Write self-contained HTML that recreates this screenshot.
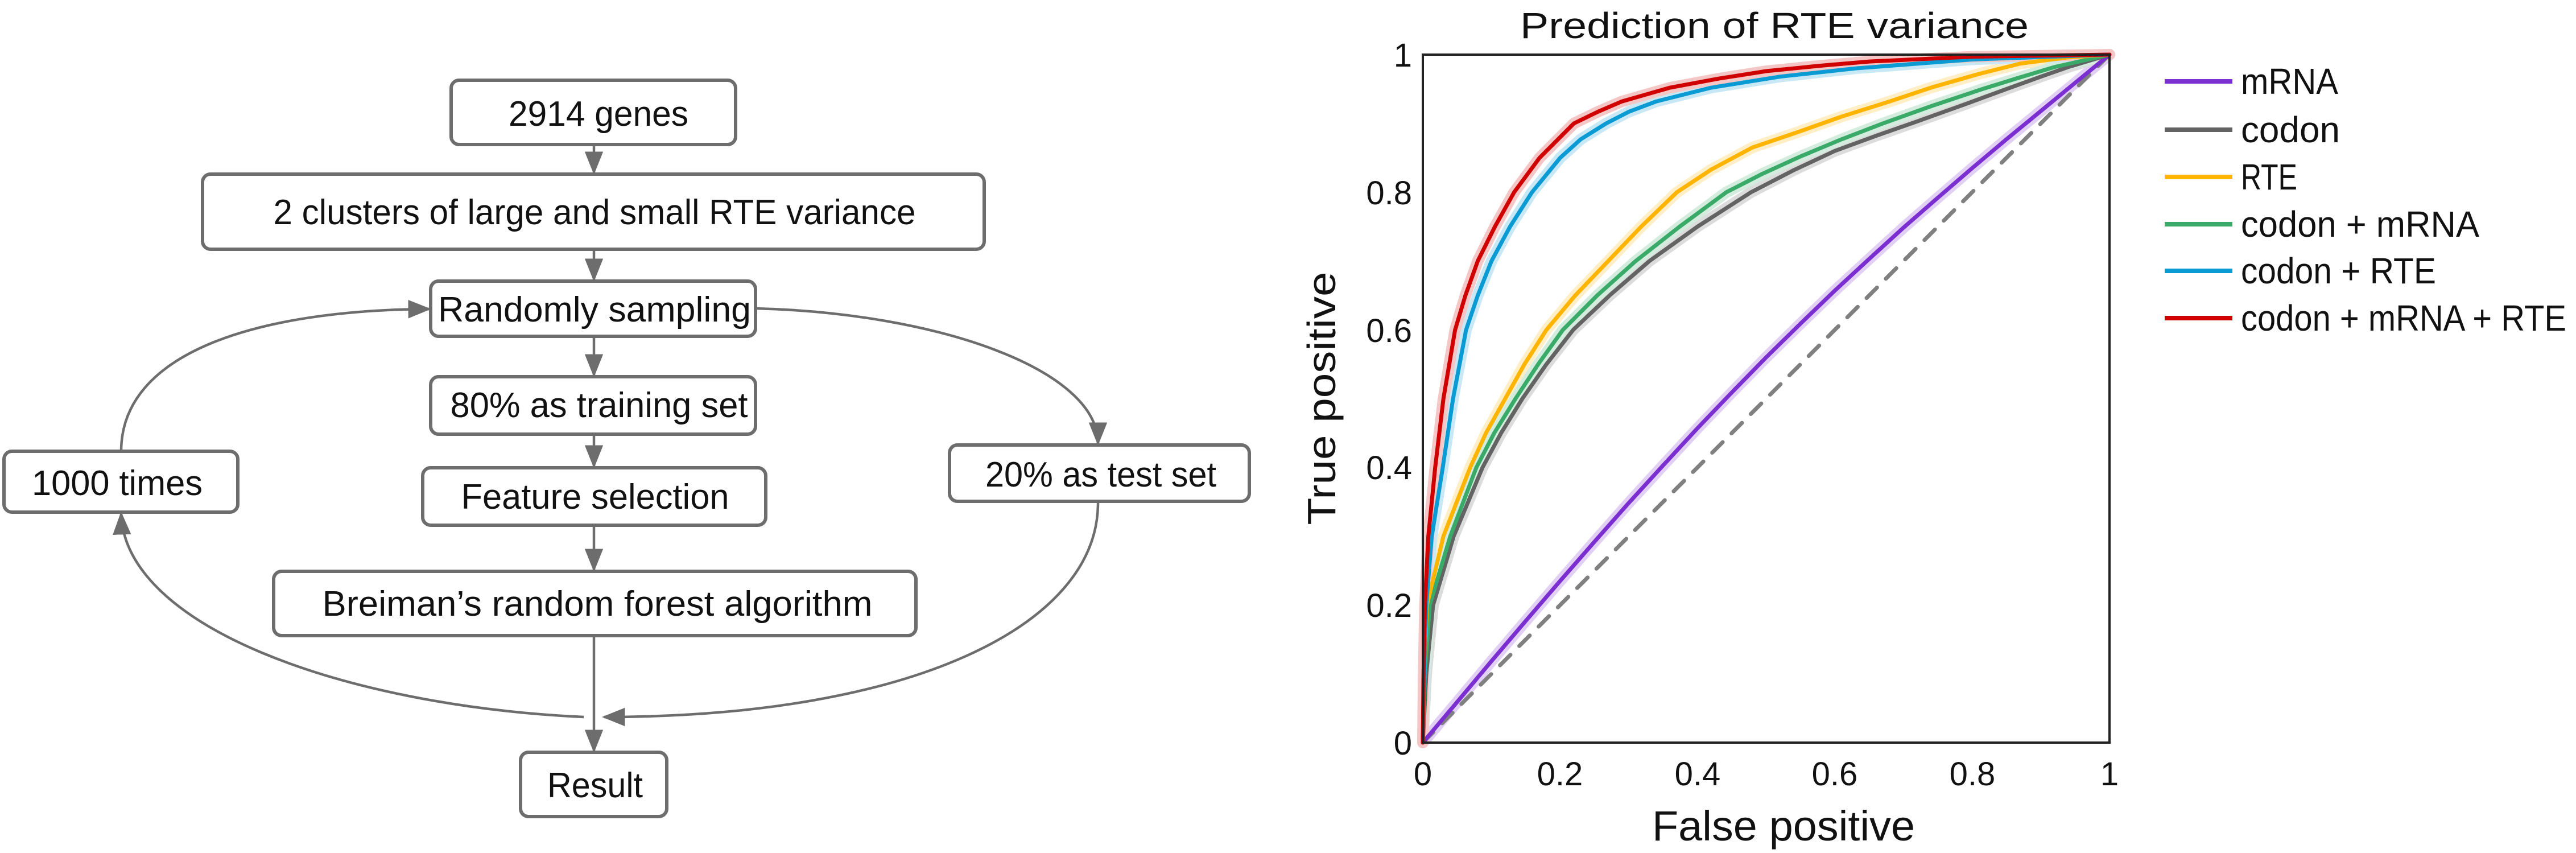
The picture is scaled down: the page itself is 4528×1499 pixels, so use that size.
<!DOCTYPE html>
<html><head><meta charset="utf-8"><style>
html,body{margin:0;padding:0;background:#fff;}
svg{display:block;}
.t{font-family:"Liberation Sans Narrow","Liberation Sans",sans-serif;fill:#111;}
</style></head><body>
<svg width="4528" height="1499" viewBox="0 0 4528 1499" xmlns="http://www.w3.org/2000/svg">
<defs>
<marker id="a" viewBox="0 0 10 10" refX="9" refY="5" markerWidth="9" markerHeight="9" orient="auto"><path d="M0,1 L10,5 L0,9 z" fill="#6d6d6d"/></marker>
</defs>
<g fill="none" stroke="#6d6d6d" stroke-width="6">
<rect x="793" y="141" width="500" height="113" rx="14"/>
<rect x="356" y="306" width="1374" height="132" rx="14"/>
<rect x="757" y="494" width="571" height="97" rx="14"/>
<rect x="757" y="662" width="571" height="101" rx="14"/>
<rect x="743" y="822" width="603" height="101" rx="14"/>
<rect x="481" y="1004" width="1129" height="113" rx="14"/>
<rect x="915" y="1322" width="257" height="113" rx="14"/>
<rect x="7" y="793" width="411" height="107" rx="14"/>
<rect x="1669" y="782" width="527" height="99" rx="14"/>
</g>
<g fill="none" stroke="#6d6d6d" stroke-width="4.5" marker-end="url(#a)">
<path d="M1044 254 L1044 303"/>
<path d="M1044 438 L1044 491"/>
<path d="M1044 591 L1044 659"/>
<path d="M1044 763 L1044 819"/>
<path d="M1044 923 L1044 1001"/>
<path d="M1044 1117 L1044 1319"/>
<path d="M213 793 C213 620 450 545 754 543"/>
<path d="M1026 1260 C600 1240 220 1100 213 903"/>
<path d="M1328 542 C1650 550 1930 650 1930 779"/>
<path d="M1930 884 C1930 1100 1600 1260 1062 1260"/>
</g>
<g class="t" font-size="62">
<text x="1052" y="221" textLength="316" lengthAdjust="spacingAndGlyphs" text-anchor="middle">2914 genes</text>
<text x="1045" y="394" textLength="1129" lengthAdjust="spacingAndGlyphs" text-anchor="middle">2 clusters of large and small RTE variance</text>
<text x="1045" y="565" textLength="550" lengthAdjust="spacingAndGlyphs" text-anchor="middle">Randomly sampling</text>
<text x="1053" y="733" textLength="523" lengthAdjust="spacingAndGlyphs" text-anchor="middle">80% as training set</text>
<text x="1046" y="894" textLength="471" lengthAdjust="spacingAndGlyphs" text-anchor="middle">Feature selection</text>
<text x="1050" y="1082" textLength="967" lengthAdjust="spacingAndGlyphs" text-anchor="middle">Breiman’s random forest algorithm</text>
<text x="1046" y="1401" textLength="168" lengthAdjust="spacingAndGlyphs" text-anchor="middle">Result</text>
<text x="206" y="870" textLength="300" lengthAdjust="spacingAndGlyphs" text-anchor="middle">1000 times</text>
<text x="1935" y="855" textLength="406" lengthAdjust="spacingAndGlyphs" text-anchor="middle">20% as test set</text>
</g>
<text class="t" x="3119" y="67" font-size="64" text-anchor="middle" textLength="894" lengthAdjust="spacingAndGlyphs">Prediction of RTE variance</text>
<g transform="translate(2501,1305) scale(1207,-1209)" fill="none" stroke-linejoin="round" stroke-linecap="round">
<g stroke-width="20" opacity="0.22">
<polyline vector-effect="non-scaling-stroke" stroke="#7b2fd0" points="0,0 0.05,0.059 0.1,0.1185 0.15,0.177 0.2,0.235 0.25,0.292 0.3,0.3485 0.35,0.403 0.4,0.457 0.45,0.509 0.5,0.56 0.55,0.609 0.6,0.657 0.65,0.703 0.7,0.7485 0.75,0.792 0.8,0.835 0.85,0.877 0.9,0.918 0.95,0.959 1,1"/>
<polyline vector-effect="non-scaling-stroke" stroke="#636363" points="0,0 0.005,0.1 0.015,0.2 0.045,0.3 0.087,0.4 0.114,0.45 0.145,0.5 0.18,0.55 0.219,0.6 0.272,0.65 0.33,0.7 0.4,0.75 0.478,0.8 0.54,0.832 0.6,0.86 0.66,0.882 0.72,0.903 0.79,0.928 0.85,0.95 0.9,0.968 0.94,0.982 1,1"/>
<polyline vector-effect="non-scaling-stroke" stroke="#ffb400" points="0,0 0.002,0.1 0.006,0.2 0.03,0.3 0.069,0.4 0.092,0.45 0.12,0.5 0.148,0.55 0.18,0.6 0.222,0.65 0.27,0.7 0.318,0.75 0.37,0.8 0.42,0.833 0.48,0.865 0.545,0.887 0.61,0.91 0.68,0.932 0.74,0.952 0.81,0.972 0.87,0.987 0.94,0.996 1,1"/>
<polyline vector-effect="non-scaling-stroke" stroke="#3aaa68" points="0,0 0.003,0.1 0.01,0.2 0.04,0.3 0.078,0.4 0.104,0.45 0.135,0.5 0.168,0.55 0.204,0.6 0.254,0.65 0.31,0.7 0.374,0.75 0.442,0.8 0.495,0.827 0.55,0.852 0.61,0.877 0.67,0.9 0.74,0.925 0.815,0.95 0.87,0.967 0.92,0.982 1,1"/>
<polyline vector-effect="non-scaling-stroke" stroke="#0a9bd4" points="0,0 0.002,0.1 0.005,0.2 0.013,0.3 0.029,0.4 0.044,0.5 0.063,0.6 0.08,0.65 0.1,0.7 0.127,0.75 0.159,0.8 0.2,0.85 0.23,0.877 0.267,0.9 0.3,0.917 0.34,0.932 0.42,0.952 0.52,0.968 0.63,0.98 0.8,0.993 1,1"/>
<polyline vector-effect="non-scaling-stroke" stroke="#d00000" points="0,0 0.001,0.1 0.003,0.2 0.008,0.3 0.018,0.4 0.03,0.5 0.047,0.6 0.062,0.65 0.08,0.7 0.105,0.75 0.133,0.8 0.17,0.85 0.195,0.875 0.22,0.9 0.255,0.917 0.29,0.932 0.36,0.952 0.43,0.965 0.5,0.976 0.58,0.984 0.65,0.99 0.8,0.997 1,1"/>
</g>
<line x1="0" y1="0" x2="1" y2="1" stroke="#808080" stroke-width="7" stroke-dasharray="26,22" vector-effect="non-scaling-stroke"/>
<g stroke-width="7">
<polyline vector-effect="non-scaling-stroke" stroke="#7b2fd0" points="0,0 0.05,0.059 0.1,0.1185 0.15,0.177 0.2,0.235 0.25,0.292 0.3,0.3485 0.35,0.403 0.4,0.457 0.45,0.509 0.5,0.56 0.55,0.609 0.6,0.657 0.65,0.703 0.7,0.7485 0.75,0.792 0.8,0.835 0.85,0.877 0.9,0.918 0.95,0.959 1,1"/>
<polyline vector-effect="non-scaling-stroke" stroke="#636363" points="0,0 0.005,0.1 0.015,0.2 0.045,0.3 0.087,0.4 0.114,0.45 0.145,0.5 0.18,0.55 0.219,0.6 0.272,0.65 0.33,0.7 0.4,0.75 0.478,0.8 0.54,0.832 0.6,0.86 0.66,0.882 0.72,0.903 0.79,0.928 0.85,0.95 0.9,0.968 0.94,0.982 1,1"/>
<polyline vector-effect="non-scaling-stroke" stroke="#3aaa68" points="0,0 0.003,0.1 0.01,0.2 0.04,0.3 0.078,0.4 0.104,0.45 0.135,0.5 0.168,0.55 0.204,0.6 0.254,0.65 0.31,0.7 0.374,0.75 0.442,0.8 0.495,0.827 0.55,0.852 0.61,0.877 0.67,0.9 0.74,0.925 0.815,0.95 0.87,0.967 0.92,0.982 1,1"/>
<polyline vector-effect="non-scaling-stroke" stroke="#ffb400" points="0,0 0.002,0.1 0.006,0.2 0.03,0.3 0.069,0.4 0.092,0.45 0.12,0.5 0.148,0.55 0.18,0.6 0.222,0.65 0.27,0.7 0.318,0.75 0.37,0.8 0.42,0.833 0.48,0.865 0.545,0.887 0.61,0.91 0.68,0.932 0.74,0.952 0.81,0.972 0.87,0.987 0.94,0.996 1,1"/>
<polyline vector-effect="non-scaling-stroke" stroke="#0a9bd4" points="0,0 0.002,0.1 0.005,0.2 0.013,0.3 0.029,0.4 0.044,0.5 0.063,0.6 0.08,0.65 0.1,0.7 0.127,0.75 0.159,0.8 0.2,0.85 0.23,0.877 0.267,0.9 0.3,0.917 0.34,0.932 0.42,0.952 0.52,0.968 0.63,0.98 0.8,0.993 1,1"/>
<polyline vector-effect="non-scaling-stroke" stroke="#d00000" points="0,0 0.001,0.1 0.003,0.2 0.008,0.3 0.018,0.4 0.03,0.5 0.047,0.6 0.062,0.65 0.08,0.7 0.105,0.75 0.133,0.8 0.17,0.85 0.195,0.875 0.22,0.9 0.255,0.917 0.29,0.932 0.36,0.952 0.43,0.965 0.5,0.976 0.58,0.984 0.65,0.99 0.8,0.997 1,1"/>
</g>
</g>
<rect x="2501" y="96" width="1207" height="1209" fill="none" stroke="#222" stroke-width="4"/>
<g class="t" font-size="58">
<g text-anchor="end">
<text x="2482" y="1326">0</text>
<text x="2482" y="1084">0.2</text>
<text x="2482" y="842">0.4</text>
<text x="2482" y="601">0.6</text>
<text x="2482" y="359">0.8</text>
<text x="2482" y="117">1</text>
</g>
<g text-anchor="middle">
<text x="2501" y="1380">0</text>
<text x="2742" y="1380">0.2</text>
<text x="2984" y="1380">0.4</text>
<text x="3225" y="1380">0.6</text>
<text x="3467" y="1380">0.8</text>
<text x="3708" y="1380">1</text>
</g>
</g>
<text class="t" x="3135" y="1477" font-size="74" text-anchor="middle" textLength="462" lengthAdjust="spacingAndGlyphs">False positive</text>
<text x="0" y="0" transform="translate(2347,700) rotate(-90)" font-family="Liberation Sans,sans-serif" font-size="70" fill="#111" text-anchor="middle" textLength="445" lengthAdjust="spacingAndGlyphs">True positive</text>
<g stroke-width="8">
<line x1="3805" y1="143" x2="3924" y2="143" stroke="#7b2fd0"/>
<line x1="3805" y1="228" x2="3924" y2="228" stroke="#636363"/>
<line x1="3805" y1="311" x2="3924" y2="311" stroke="#ffb400"/>
<line x1="3805" y1="394" x2="3924" y2="394" stroke="#3aaa68"/>
<line x1="3805" y1="476" x2="3924" y2="476" stroke="#0a9bd4"/>
<line x1="3805" y1="559" x2="3924" y2="559" stroke="#d00000"/>
</g>
<g class="t" font-size="64">
<text x="3939" y="165" textLength="171" lengthAdjust="spacingAndGlyphs">mRNA</text>
<text x="3939" y="250" textLength="174" lengthAdjust="spacingAndGlyphs">codon</text>
<text x="3939" y="333" textLength="99" lengthAdjust="spacingAndGlyphs">RTE</text>
<text x="3939" y="416" textLength="419" lengthAdjust="spacingAndGlyphs">codon + mRNA</text>
<text x="3939" y="498" textLength="343" lengthAdjust="spacingAndGlyphs">codon + RTE</text>
<text x="3939" y="581" textLength="572" lengthAdjust="spacingAndGlyphs">codon + mRNA + RTE</text>
</g>
</svg>
</body></html>
